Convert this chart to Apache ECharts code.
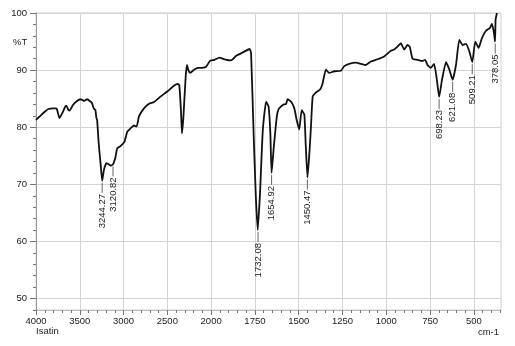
<!DOCTYPE html>
<html>
<head>
<meta charset="utf-8">
<script src="https://cdn.jsdelivr.net/npm/echarts@6/dist/echarts.min.js"></script>
<style>html,body{margin:0;padding:0;background:#fff}#c{width:515px;height:346px}</style>
</head>
<body>
<div id="c"></div>
<script>
// Wavenumbers (cm-1) and transmittance (%T)
var wavenumbers = [4000,3950,3916,3859,3801,3782,3762,3732,3693,3667,3655,3629,3617,3578,3532,3494,3475,3448,3417,3379,3360,3341,3322,3310,3302,3284,3262,3244,3225,3207,3195,3180,3150,3121,3092,3073,3035,2989,2958,2920,2882,2851,2824,2767,2709,2652,2575,2498,2422,2383,2364,2345,2333,2318,2307,2290,2276,2260,2241,2192,2153,2115,2057,2019,2000,1981,1953,1924,1886,1857,1819,1781,1772,1757,1745,1734,1721,1705,1686,1672,1662,1655,1642,1625,1614,1591,1572,1563,1544,1525,1512,1497,1483,1468,1460,1450,1440,1430,1420,1401,1378,1364,1345,1326,1297,1259,1240,1212,1174,1145,1117,1088,1050,1012,974,955,936,917,898,879,866,850,822,793,778,765,746,727,712,698,682,659,640,621,602,583,564,545,526,509,492,473,454,431,408,397,385,379,376,368];
var transmittance = [81.3,82.0,82.5,83.2,83.3,83.3,83.2,81.6,82.7,83.6,83.8,83.0,82.9,83.9,84.6,84.9,84.8,84.6,84.9,84.5,84.2,83.3,83.0,81.6,81.3,77.2,73.5,70.6,72.5,73.4,73.7,73.6,73.3,73.5,74.8,76.3,76.7,77.5,79.2,79.8,80.3,80.1,81.9,83.3,84.1,84.4,85.4,86.3,87.3,87.6,87.4,83.0,78.9,81.5,84.5,89.0,90.9,90.0,89.5,90.1,90.4,90.4,90.6,91.5,91.7,91.8,92.2,91.9,91.7,92.5,93.1,93.7,93.0,78.4,68.0,62.0,68.4,79.5,84.5,83.6,79.0,72.0,76.6,81.9,83.2,83.9,84.1,84.9,84.5,83.3,81.3,79.6,83.0,82.2,77.0,71.2,75.0,80.1,85.4,86.1,86.6,87.6,90.1,89.5,89.8,89.9,90.7,91.1,91.3,91.1,90.9,91.5,91.9,92.4,93.4,93.6,94.1,94.7,93.6,94.4,94.1,92.0,91.8,91.6,91.8,90.9,90.4,91.1,88.5,85.3,88.3,91.4,90.1,88.3,90.9,95.3,94.4,94.6,93.3,91.4,95.0,93.9,95.6,96.9,97.4,98.1,96.5,95.0,98.8,100.0];

// Peak annotations
var peakWavenumbers = [3244.27,3120.82,1732.08,1654.92,1450.47,698.23,621.08,509.21,378.05];
var peakTransmittance = [70.6,73.5,62.0,72.0,71.2,85.3,88.3,91.4,95.0];

// Tick labels
var xTickLabels = [4000,3500,3000,2500,2000,1750,1500,1250,1000,750,500];
var yTickLabels = [50,60,70,80,90,100];

// Axis is compressed 2:1 above 2000 cm-1
function fwd(v){ return v <= 2000 ? v : 2000 + (v - 2000) / 2; }
function inv(t){ return t <= 2000 ? t : 2000 + (t - 2000) * 2; }

var X_MIN = fwd(345), X_MAX = fwd(4000);
var xMajor = xTickLabels.map(fwd);
var xMinor = [];
for (var t = 350; t <= 3000; t += 50) { if (xMajor.indexOf(t) < 0) xMinor.push(t); }
var yMinor = [];
for (var y = 48; y <= 100; y += 2) { if (y % 10 !== 0) yMinor.push(y); }

var lineData = wavenumbers.map(function(v, i){ return [fwd(v), transmittance[i]]; });
var peakData = peakWavenumbers.map(function(v, i){ return [fwd(v), peakTransmittance[i]]; });

var FONT = '"Liberation Sans", Arial, sans-serif';
var chart = echarts.init(document.getElementById('c'), null, {renderer:'canvas'});
chart.setOption({
  animation: false,
  backgroundColor: '#fff',
  grid: {left: 36, right: 14, top: 13, bottom: 36, show: true, borderColor: '#cfcfcf', borderWidth: 1},
  xAxis: [{
    type: 'value', min: X_MIN, max: X_MAX, inverse: true, position: 'bottom',
    axisLine: {show: true, onZero: false, lineStyle: {color: '#bbb', width: 1}},
    axisTick: {show: true, customValues: xMajor, length: 5, lineStyle: {color: '#777'}},
    axisLabel: {customValues: xMajor, formatter: function(v){ return String(Math.round(inv(v))); },
      margin: 6, fontSize: 9.5, color: '#222', fontFamily: FONT},
    splitLine: {show: true, lineStyle: {color: '#d4d4d4', width: 1}}
  },{
    type: 'value', min: X_MIN, max: X_MAX, inverse: true, position: 'bottom',
    axisLine: {show: false},
    axisTick: {show: true, customValues: xMinor, length: 3, lineStyle: {color: '#777'}},
    axisLabel: {show: false},
    splitLine: {show: false}
  }],
  yAxis: [{
    type: 'value', min: 48, max: 100, position: 'left',
    axisLine: {show: true, onZero: false, lineStyle: {color: '#999', width: 1}},
    axisTick: {show: true, customValues: yTickLabels, length: 6, lineStyle: {color: '#777'}},
    axisLabel: {customValues: yTickLabels, margin: 9, fontSize: 9.5, color: '#222', fontFamily: FONT},
    splitLine: {show: true, lineStyle: {color: '#d4d4d4', width: 1}}
  },{
    type: 'value', min: 48, max: 100, position: 'left',
    axisLine: {show: false},
    axisTick: {show: true, customValues: yMinor, length: 3, lineStyle: {color: '#777'}},
    axisLabel: {show: false},
    splitLine: {show: false}
  }],
  series: [{
    type: 'line', xAxisIndex: 0, yAxisIndex: 0, data: lineData, showSymbol: false, symbol: 'none',
    smooth: 0.15, clip: true,
    lineStyle: {color: '#111', width: 1.8}
  },{
    type: 'custom', xAxisIndex: 0, yAxisIndex: 0, data: peakData, clip: false,
    renderItem: function(params, api){
      var p = api.coord([api.value(0), api.value(1)]);
      return {type: 'group', children: [
        {type: 'line', shape: {x1: p[0], y1: p[1] + 2, x2: p[0], y2: p[1] + 12}, style: {stroke: '#666', lineWidth: 1}},
        {type: 'text', x: p[0], y: p[1] + 13, rotation: Math.PI / 2,
          style: {text: peakWavenumbers[params.dataIndex].toFixed(2), fill: '#222',
            font: '9.5px ' + FONT, align: 'right', verticalAlign: 'middle'}}
      ]};
    }
  }],
  graphic: [
    {type: 'text', left: 13, top: 37, style: {text: '%T', fill: '#222', font: '9.5px ' + FONT}},
    {type: 'text', left: 36, top: 326, style: {text: 'Isatin', fill: '#222', font: '9.5px ' + FONT}},
    {type: 'text', right: 16, top: 327, style: {text: 'cm-1', fill: '#222', font: '9.5px ' + FONT}}
  ]
});
</script>
</body>
</html>
